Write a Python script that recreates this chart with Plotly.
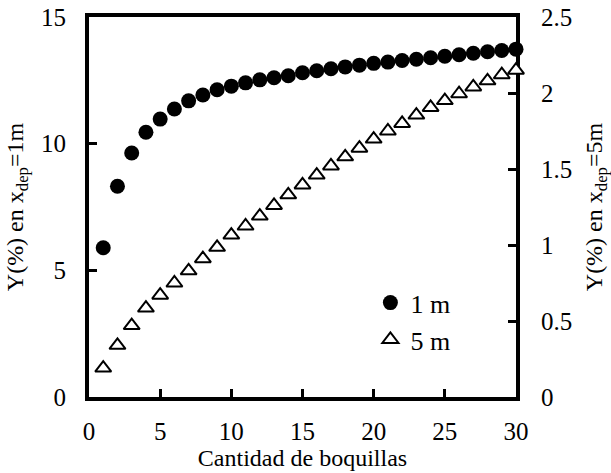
import plotly.graph_objects as go

boquillas = [1, 2, 3, 4, 5, 6, 7, 8, 9, 10, 11, 12, 13, 14, 15,
             16, 17, 18, 19, 20, 21, 22, 23, 24, 25, 26, 27, 28, 29, 30]
y_1m = [5.89, 8.32, 9.63, 10.45, 10.97, 11.37, 11.69, 11.92, 12.13, 12.27,
        12.40, 12.52, 12.60, 12.68, 12.80, 12.88, 12.96, 13.03, 13.10, 13.17,
        13.22, 13.28, 13.33, 13.39, 13.45, 13.51, 13.57, 13.63, 13.68, 13.73]
y_5m = [0.19, 0.34, 0.47, 0.585, 0.67, 0.75, 0.83, 0.91, 0.985, 1.065,
        1.125, 1.19, 1.26, 1.33, 1.395, 1.46, 1.52, 1.58, 1.637, 1.697,
        1.75, 1.80, 1.855, 1.905, 1.95, 1.995, 2.04, 2.08, 2.12, 2.15]
series_names = ["1 m", "5 m"]
x_title = "Cantidad de boquillas"
y1_title = "Y(%) en x<sub>dep</sub>=1m"
y2_title = "Y(%) en x<sub>dep</sub>=5m"

FONT = "'Liberation Serif', 'DejaVu Serif', serif"

fig = go.Figure()
fig.add_trace(go.Scatter(
    x=boquillas, y=y_1m, name=series_names[0], mode="markers",
    marker=dict(symbol="circle", size=15, color="black"),
    cliponaxis=False, yaxis="y"))
fig.add_trace(go.Scatter(
    x=boquillas, y=y_5m, name=series_names[1], mode="markers",
    marker=dict(symbol="triangle-up", size=14, color="white",
                line=dict(color="black", width=2)),
    cliponaxis=False, yaxis="y2"))

axis_common = dict(showgrid=False, zeroline=False, showline=True,
                   linecolor="black", linewidth=4, ticks="inside",
                   ticklen=8, tickwidth=3, tickcolor="black",
                   layer="below traces", automargin=False,
                   tickfont=dict(family=FONT, size=25, color="black"))

fig.update_layout(
    width=611, height=473,
    margin=dict(l=89, r=95, t=17, b=76),
    paper_bgcolor="white", plot_bgcolor="white",
    font=dict(family=FONT, size=24, color="black"),
    showlegend=True,
    legend=dict(x=0.659, y=0.31, xanchor="left", yanchor="top",
                bgcolor="rgba(0,0,0,0)", font=dict(family=FONT, size=26),
                itemwidth=30, tracegroupgap=0),
    xaxis=dict(range=[0, 30], dtick=5, tick0=0, mirror=True,
               ticklabelstandoff=9,
               title=dict(text=x_title, standoff=4,
                          font=dict(family=FONT, size=24)),
               **axis_common),
    yaxis=dict(range=[0, 15], dtick=5, tick0=0,
               ticklabelstandoff=14,
               title=dict(text=y1_title, standoff=12,
                          font=dict(family=FONT, size=24)),
               **axis_common),
    yaxis2=dict(range=[0, 2.5], dtick=0.5, tick0=0, overlaying="y",
                side="right", ticklabelstandoff=16,
                title=dict(text=y2_title, standoff=20,
                           font=dict(family=FONT, size=24)),
                **axis_common),
)

fig.write_html("out.html",
               config={"displayModeBar": False},
               post_script="document.body.style.margin='0';"
                           "document.body.style.padding='0';")
